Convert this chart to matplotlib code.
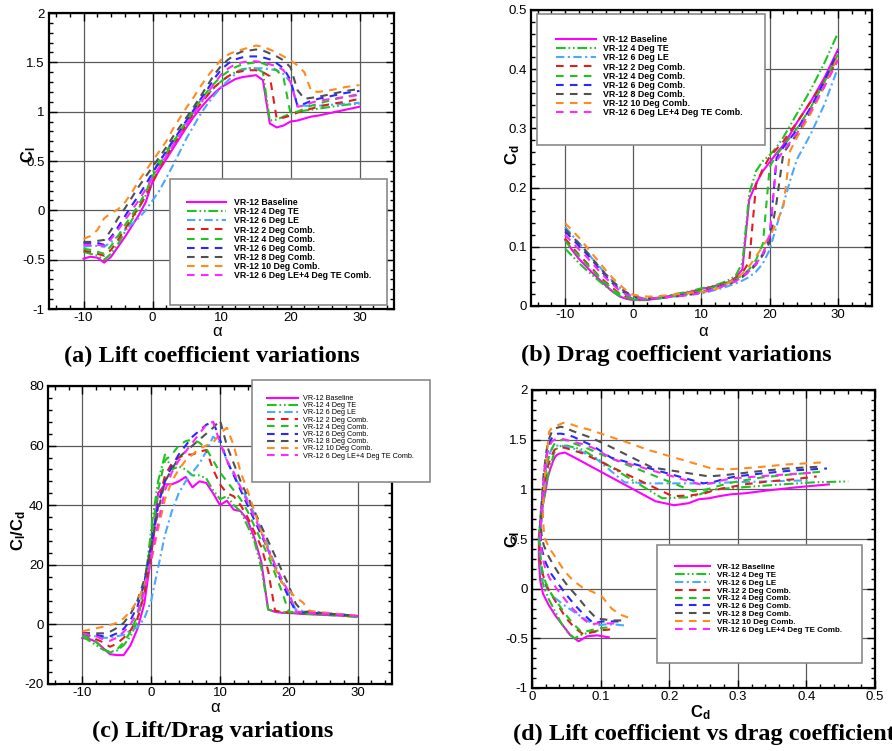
import matplotlib
matplotlib.use('Agg')
import matplotlib.pyplot as plt
from matplotlib.patches import Rectangle
from matplotlib.ticker import MultipleLocator, AutoMinorLocator, FuncFormatter

plt.rcParams['font.family'] = ['Liberation Sans', 'DejaVu Sans']
plt.rcParams['mathtext.fontset'] = 'custom'
plt.rcParams['mathtext.rm'] = 'Liberation Sans'
plt.rcParams['mathtext.it'] = 'Liberation Sans:italic'
plt.rcParams['mathtext.bf'] = 'Liberation Sans:bold'
plt.rcParams['axes.unicode_minus'] = False
plt.rcParams['lines.scale_dashes'] = False

# angle of attack grid (deg)
alpha = [-10, -9, -8, -7, -6, -5, -4, -3, -2, -1, 0, 1, 2, 3, 4, 5, 6, 7, 8, 9,
         10, 11, 12, 13, 14, 15, 16, 17, 18, 19, 20, 21, 22, 23, 24, 26, 28, 30]

labels = ['VR-12 Baseline', 'VR-12 4 Deg TE', 'VR-12 6 Deg LE',
          'VR-12 2 Deg Comb.', 'VR-12 4 Deg Comb.', 'VR-12 6 Deg Comb.',
          'VR-12 8 Deg Comb.', 'VR-12 10 Deg Comb.',
          'VR-12 6 Deg LE+4 Deg TE Comb.']

# lift coefficient
cl_base = [-0.49, -0.47, -0.48, -0.53, -0.47, -0.37, -0.27, -0.16, -0.05, 0.08, 0.29, 0.41, 0.52, 0.63, 0.74, 0.85, 0.95, 1.04, 1.12, 1.19,
           1.25, 1.29, 1.33, 1.35, 1.36, 1.37, 1.32, 0.88, 0.84, 0.86, 0.90, 0.91, 0.93, 0.95, 0.96, 0.99, 1.02, 1.05]
cl_te4 = [-0.42, -0.44, -0.46, -0.50, -0.44, -0.34, -0.22, -0.10, 0.02, 0.15, 0.38, 0.50, 0.60, 0.70, 0.80, 0.90, 1.00, 1.09, 1.17, 1.25,
          1.31, 1.36, 1.40, 1.43, 1.44, 1.44, 1.40, 0.91, 0.92, 0.95, 0.98, 1.00, 1.01, 1.02, 1.03, 1.05, 1.07, 1.08]
cl_le6 = [-0.37, -0.36, -0.36, -0.37, -0.32, -0.26, -0.20, -0.14, -0.08, 0.00, 0.10, 0.20, 0.33, 0.46, 0.60, 0.74, 0.86, 0.98, 1.08, 1.17,
          1.25, 1.32, 1.38, 1.42, 1.44, 1.44, 1.44, 1.43, 1.42, 1.38, 1.30, 1.07, 1.06, 1.06, 1.06, 1.07, 1.08, 1.09]
cl_c2 = [-0.41, -0.42, -0.44, -0.46, -0.40, -0.30, -0.19, -0.08, 0.03, 0.14, 0.28, 0.42, 0.55, 0.66, 0.77, 0.88, 0.99, 1.08, 1.17, 1.25,
         1.31, 1.36, 1.40, 1.41, 1.42, 1.42, 1.40, 1.36, 0.93, 0.94, 0.96, 0.99, 1.01, 1.03, 1.05, 1.08, 1.10, 1.13]
cl_c4 = [-0.39, -0.40, -0.42, -0.44, -0.36, -0.26, -0.15, -0.05, 0.06, 0.18, 0.34, 0.46, 0.58, 0.69, 0.80, 0.91, 1.02, 1.12, 1.21, 1.29,
         1.36, 1.41, 1.45, 1.48, 1.49, 1.50, 1.49, 1.46, 1.42, 1.34, 0.98, 1.00, 1.03, 1.06, 1.08, 1.12, 1.15, 1.18]
cl_c6 = [-0.33, -0.33, -0.33, -0.35, -0.27, -0.17, -0.06, 0.05, 0.15, 0.26, 0.38, 0.49, 0.60, 0.71, 0.81, 0.92, 1.02, 1.13, 1.23, 1.34,
         1.43, 1.49, 1.53, 1.55, 1.56, 1.56, 1.55, 1.53, 1.49, 1.44, 1.32, 1.06, 1.08, 1.11, 1.13, 1.16, 1.19, 1.21]
cl_c8 = [-0.32, -0.32, -0.31, -0.30, -0.20, -0.08, 0.02, 0.13, 0.24, 0.34, 0.44, 0.54, 0.64, 0.75, 0.85, 0.95, 1.05, 1.16, 1.27, 1.38,
         1.47, 1.53, 1.58, 1.61, 1.62, 1.63, 1.62, 1.59, 1.56, 1.52, 1.45, 1.22, 1.13, 1.14, 1.15, 1.18, 1.21, 1.23]
cl_c10 = [-0.29, -0.26, -0.20, -0.08, -0.03, 0.01, 0.08, 0.18, 0.30, 0.40, 0.50, 0.60, 0.70, 0.83, 0.94, 1.05, 1.15, 1.26, 1.36, 1.45,
          1.53, 1.58, 1.61, 1.63, 1.65, 1.67, 1.66, 1.63, 1.60, 1.56, 1.52, 1.47, 1.40, 1.21, 1.20, 1.22, 1.25, 1.27]
cl_le6te4 = [-0.35, -0.35, -0.35, -0.36, -0.29, -0.20, -0.10, 0.00, 0.10, 0.21, 0.33, 0.44, 0.55, 0.66, 0.77, 0.88, 0.98, 1.09, 1.19, 1.29,
             1.38, 1.44, 1.48, 1.50, 1.51, 1.51, 1.50, 1.48, 1.46, 1.42, 1.30, 1.05, 1.06, 1.09, 1.11, 1.13, 1.15, 1.17]

# drag coefficient
cd_base = [0.112, 0.095, 0.080, 0.068, 0.056, 0.045, 0.034, 0.024, 0.016, 0.012, 0.010, 0.010, 0.010, 0.012, 0.014, 0.016, 0.019, 0.021, 0.023, 0.026,
           0.029, 0.031, 0.034, 0.037, 0.040, 0.048, 0.062, 0.180, 0.207, 0.228, 0.243, 0.258, 0.272, 0.290, 0.310, 0.345, 0.385, 0.433]
cd_te4 = [0.097, 0.085, 0.073, 0.062, 0.052, 0.042, 0.033, 0.024, 0.017, 0.013, 0.011, 0.010, 0.011, 0.013, 0.015, 0.017, 0.020, 0.022, 0.024, 0.027,
          0.030, 0.032, 0.035, 0.039, 0.044, 0.051, 0.073, 0.190, 0.228, 0.245, 0.255, 0.268, 0.285, 0.305, 0.325, 0.365, 0.410, 0.461]
cd_le6 = [0.134, 0.120, 0.107, 0.094, 0.080, 0.067, 0.054, 0.042, 0.031, 0.022, 0.016, 0.013, 0.012, 0.012, 0.013, 0.015, 0.016, 0.018, 0.019, 0.020,
          0.021, 0.024, 0.027, 0.030, 0.034, 0.038, 0.043, 0.049, 0.058, 0.072, 0.095, 0.135, 0.172, 0.212, 0.248, 0.290, 0.340, 0.402]
cd_c2 = [0.114, 0.100, 0.087, 0.075, 0.063, 0.050, 0.040, 0.030, 0.021, 0.016, 0.012, 0.011, 0.011, 0.012, 0.014, 0.015, 0.017, 0.019, 0.021, 0.024,
         0.027, 0.030, 0.033, 0.037, 0.041, 0.047, 0.056, 0.075, 0.205, 0.232, 0.252, 0.265, 0.278, 0.295, 0.310, 0.345, 0.380, 0.415]
cd_c4 = [0.110, 0.097, 0.085, 0.073, 0.061, 0.049, 0.038, 0.028, 0.020, 0.015, 0.012, 0.011, 0.011, 0.012, 0.013, 0.015, 0.017, 0.019, 0.021, 0.023,
         0.026, 0.029, 0.032, 0.036, 0.040, 0.045, 0.052, 0.062, 0.078, 0.105, 0.235, 0.255, 0.270, 0.285, 0.300, 0.335, 0.378, 0.425]
cd_c6 = [0.126, 0.114, 0.102, 0.090, 0.077, 0.063, 0.050, 0.038, 0.028, 0.020, 0.015, 0.013, 0.012, 0.013, 0.014, 0.015, 0.016, 0.018, 0.019, 0.021,
         0.024, 0.027, 0.030, 0.034, 0.038, 0.043, 0.050, 0.060, 0.072, 0.088, 0.115, 0.250, 0.268, 0.283, 0.298, 0.335, 0.380, 0.430]
cd_c8 = [0.130, 0.118, 0.106, 0.094, 0.080, 0.066, 0.053, 0.041, 0.031, 0.023, 0.017, 0.014, 0.013, 0.013, 0.014, 0.015, 0.016, 0.017, 0.019, 0.021,
         0.023, 0.026, 0.029, 0.033, 0.037, 0.042, 0.049, 0.058, 0.070, 0.086, 0.108, 0.175, 0.258, 0.275, 0.290, 0.328, 0.372, 0.424]
cd_c10 = [0.140, 0.128, 0.116, 0.102, 0.088, 0.074, 0.060, 0.047, 0.036, 0.026, 0.019, 0.017, 0.016, 0.016, 0.017, 0.018, 0.019, 0.021, 0.022, 0.023,
          0.024, 0.025, 0.028, 0.033, 0.039, 0.046, 0.055, 0.067, 0.084, 0.101, 0.118, 0.140, 0.168, 0.262, 0.285, 0.325, 0.370, 0.421]
cd_le6te4 = [0.120, 0.108, 0.096, 0.085, 0.072, 0.059, 0.047, 0.036, 0.026, 0.019, 0.015, 0.013, 0.012, 0.013, 0.014, 0.015, 0.016, 0.017, 0.018, 0.020,
             0.023, 0.026, 0.029, 0.033, 0.037, 0.042, 0.049, 0.059, 0.071, 0.088, 0.120, 0.245, 0.262, 0.277, 0.292, 0.330, 0.370, 0.415]

# lift/drag ratio
ld_base = [-4.6, -4.9, -5.8, -7.9, -10.0, -10.3, -10.3, -7.0, -1.5, 7.0, 23.0, 44.0, 47.0, 47.0, 48.0, 49.5, 46.0, 48.0, 47.5, 44.0,
           40.0, 41.5, 38.5, 38.0, 35.0, 29.0, 21.0, 5.0, 4.2, 3.9, 3.8, 3.7, 3.5, 3.4, 3.3, 3.1, 2.9, 2.7]
ld_te4 = [-4.0, -5.5, -7.0, -8.5, -9.2, -8.8, -7.0, -4.0, 1.0, 12.0, 32.0, 48.0, 57.0, 52.0, 53.0, 52.0, 50.0, 50.0, 49.0, 45.0,
          42.0, 43.0, 40.0, 38.0, 33.0, 28.0, 19.0, 5.0, 4.3, 4.1, 4.0, 3.8, 3.6, 3.5, 3.4, 3.1, 2.8, 2.4]
ld_le6 = [-3.5, -3.8, -4.0, -4.5, -4.5, -4.0, -3.5, -2.0, -1.0, 2.0, 8.0, 19.0, 30.0, 38.0, 44.0, 48.0, 51.0, 54.0, 58.0, 63.0,
          61.0, 55.0, 50.0, 46.0, 42.0, 37.0, 32.0, 26.0, 20.0, 15.0, 10.0, 5.0, 4.5, 4.3, 4.1, 3.7, 3.3, 2.7]
ld_c2 = [-3.2, -4.0, -5.0, -6.0, -7.5, -6.5, -4.5, -2.0, 2.0, 10.0, 24.0, 40.0, 50.0, 54.0, 56.0, 57.0, 57.0, 58.0, 58.5, 52.0,
         47.0, 44.0, 43.0, 40.0, 36.0, 31.0, 26.0, 18.0, 4.6, 4.2, 4.0, 3.9, 3.7, 3.6, 3.5, 3.3, 3.0, 2.8]
ld_c4 = [-3.5, -4.5, -6.0, -8.0, -9.5, -8.5, -6.0, -2.5, 3.0, 13.0, 29.0, 45.0, 55.0, 57.0, 60.0, 61.5, 62.0, 61.0, 59.0, 55.0,
         51.0, 48.0, 45.0, 42.0, 38.0, 33.0, 28.0, 23.0, 17.0, 11.0, 4.2, 3.9, 3.8, 3.7, 3.6, 3.4, 3.1, 2.8]
ld_c6 = [-3.0, -3.3, -3.5, -4.0, -4.0, -3.0, -1.5, 1.5, 6.0, 14.0, 27.0, 40.0, 48.0, 53.0, 57.0, 60.0, 63.0, 65.0, 67.0, 68.0,
         62.0, 55.0, 50.0, 45.0, 40.0, 35.0, 30.0, 25.0, 19.0, 14.0, 9.0, 4.3, 4.0, 3.9, 3.8, 3.5, 3.2, 2.8]
ld_c8 = [-2.8, -2.9, -3.0, -3.0, -2.5, -1.2, 0.5, 3.5, 8.0, 15.0, 26.0, 38.0, 48.0, 52.0, 56.0, 58.0, 60.0, 62.0, 64.0, 66.0,
         68.5, 60.0, 54.0, 48.0, 43.0, 38.0, 33.0, 28.0, 23.0, 18.0, 13.0, 7.0, 4.3, 4.1, 4.0, 3.6, 3.2, 2.9]
ld_c10 = [-2.3, -1.8, -1.3, -0.8, -0.2, 0.5, 2.0, 4.5, 8.0, 13.0, 21.0, 32.0, 42.0, 48.0, 52.0, 55.0, 57.0, 59.0, 60.0, 61.0,
          64.0, 66.0, 60.0, 51.0, 45.0, 38.0, 31.0, 25.0, 19.0, 14.0, 11.5, 9.0, 7.5, 4.6, 4.2, 3.8, 3.3, 2.9]
ld_le6te4 = [-3.0, -3.5, -4.0, -5.0, -5.5, -4.5, -2.5, 0.0, 4.0, 11.0, 22.0, 34.0, 45.0, 51.0, 55.0, 58.0, 61.0, 64.0, 67.0, 68.0,
             61.0, 55.0, 51.0, 46.0, 41.0, 36.0, 31.0, 25.0, 20.0, 15.0, 10.8, 4.3, 4.1, 3.9, 3.8, 3.5, 3.2, 2.8]

cl_all = [cl_base, cl_te4, cl_le6, cl_c2, cl_c4, cl_c6, cl_c8, cl_c10, cl_le6te4]
cd_all = [cd_base, cd_te4, cd_le6, cd_c2, cd_c4, cd_c6, cd_c8, cd_c10, cd_le6te4]
ld_all = [ld_base, ld_te4, ld_le6, ld_c2, ld_c4, ld_c6, ld_c8, ld_c10, ld_le6te4]

dash = (0, (5.5, 4.5))
styles = [('#ff00ff', '-'),
          ('#1fc41f', (0, (7, 2, 1.2, 2, 1.2, 2))),
          ('#4aa8ff', (0, (6, 2.5, 1.5, 2.5))),
          ('#e01e1e', dash),
          ('#1fc41f', dash),
          ('#2828ff', dash),
          ('#505050', dash),
          ('#ff8a1e', dash),
          ('#ff28ff', dash)]

W, H = 892.0, 751.0
fig = plt.figure(figsize=(8.92, 7.51), dpi=100)


def add_axes(x0, y0, x1, y1):
    return fig.add_axes([x0 / W, 1 - y1 / H, (x1 - x0) / W, (y1 - y0) / H])


def style_axes(ax, xlim, ylim, xmaj, ymaj):
    ax.set_xlim(*xlim)
    ax.set_ylim(*ylim)
    ax.xaxis.set_major_locator(MultipleLocator(xmaj))
    ax.yaxis.set_major_locator(MultipleLocator(ymaj))
    ax.xaxis.set_minor_locator(AutoMinorLocator(5))
    ax.yaxis.set_minor_locator(AutoMinorLocator(5))
    fmt = FuncFormatter(lambda v, p: '%g' % round(v, 6))
    ax.xaxis.set_major_formatter(fmt)
    ax.yaxis.set_major_formatter(fmt)
    ax.tick_params(which='both', direction='in', top=True, right=True,
                   labelsize=9.5, width=1.0)
    ax.tick_params(which='major', length=6, pad=3)
    ax.tick_params(axis='x', which='major', pad=2)
    ax.tick_params(which='minor', length=3)
    ax.grid(True, which='major', color='#5a5a5a', lw=0.9)
    ax.set_axisbelow(True)
    for s in ax.spines.values():
        s.set_linewidth(1.6)


def draw(ax, xs_list, ys_list):
    handles = []
    for xs, ys, (c, ls) in zip(xs_list, ys_list, styles):
        h, = ax.plot(xs, ys, color=c, linestyle=ls, lw=1.5)
        handles.append(h)
    return handles


def add_legend(handles, box, anchor, fs, weight, hlen, hpad):
    x0, y0, x1, y1 = box
    fig.add_artist(Rectangle((x0 / W, 1 - y1 / H), (x1 - x0) / W, (y1 - y0) / H,
                             transform=fig.transFigure, facecolor='white',
                             edgecolor='#8a8a8a', lw=1.2, zorder=3))
    fig.legend(handles, labels, loc='upper left',
               bbox_to_anchor=(anchor[0] / W, 1 - anchor[1] / H),
               frameon=False, borderpad=0, borderaxespad=0,
               handlelength=hlen, handletextpad=hpad, labelspacing=0.02,
               prop={'family': 'Liberation Sans', 'size': fs, 'weight': weight})


title_font = {'family': 'Liberation Serif', 'weight': 'bold', 'size': 17.5}
lab_font = {'size': 12}

# (a) lift coefficient
ax1 = add_axes(49, 13, 394, 309)
style_axes(ax1, (-15, 35), (-1, 2), 10, 0.5)
h1 = draw(ax1, [alpha] * 9, cl_all)
add_legend(h1, (170, 179, 387, 305), (187, 198), 6.3, 'bold', 4.46, 0.88)
fig.text(29 / W, 1 - 155 / H, r'$\mathbf{C_l}$', rotation=90, ha='center', va='center', **lab_font)
fig.text(217 / W, 1 - 332 / H, 'α', ha='center', va='center', **lab_font)
fig.text(212 / W, 1 - 356 / H, '(a) Lift coefficient variations', ha='center', va='center', **title_font)

# (b) drag coefficient
ax2 = add_axes(531, 10, 872, 306)
style_axes(ax2, (-15, 35), (0, 0.5), 10, 0.1)
h2 = draw(ax2, [alpha] * 9, cd_all)
add_legend(h2, (537, 14, 765, 145), (555.7, 35), 6.4, 'bold', 4.5, 0.85)
fig.text(513 / W, 1 - 155 / H, r'$\mathbf{C_d}$', rotation=90, ha='center', va='center', **lab_font)
fig.text(703 / W, 1 - 331 / H, 'α', ha='center', va='center', **lab_font)
fig.text(676 / W, 1 - 355 / H, '(b) Drag coefficient variations', ha='center', va='center', **title_font)

# (c) lift/drag ratio
ax3 = add_axes(48, 386, 392, 684)
style_axes(ax3, (-15, 35), (-20, 80), 10, 20)
h3 = draw(ax3, [alpha] * 9, ld_all)
add_legend(h3, (252, 380, 430, 482), (266.7, 395), 5.2, 'normal', 4.4, 0.68)
fig.text(19 / W, 1 - 530 / H, r'$\mathbf{C_l/C_d}$', rotation=90, ha='center', va='center', **lab_font)
fig.text(215 / W, 1 - 707 / H, 'α', ha='center', va='center', **lab_font)
fig.text(213 / W, 1 - 731 / H, '(c) Lift/Drag variations', ha='center', va='center', **title_font)

# (d) lift vs drag
ax4 = add_axes(532, 390, 875, 688)
style_axes(ax4, (0, 0.5), (-1, 2), 0.1, 0.5)
h4 = draw(ax4, cd_all, cl_all)
add_legend(h4, (657, 545, 862, 663), (675, 563.6), 5.8, 'bold', 4.34, 0.83)
fig.text(513 / W, 1 - 540 / H, r'$\mathbf{C_l}$', rotation=90, ha='center', va='center', **lab_font)
fig.text(700 / W, 1 - 713 / H, r'$\mathbf{C_d}$', ha='center', va='center', **lab_font)
fig.text(513 / W, 1 - 734 / H, '(d) Lift coefficient vs drag coefficient', ha='left', va='center', **title_font)

plt.savefig('out.png', dpi=100)
